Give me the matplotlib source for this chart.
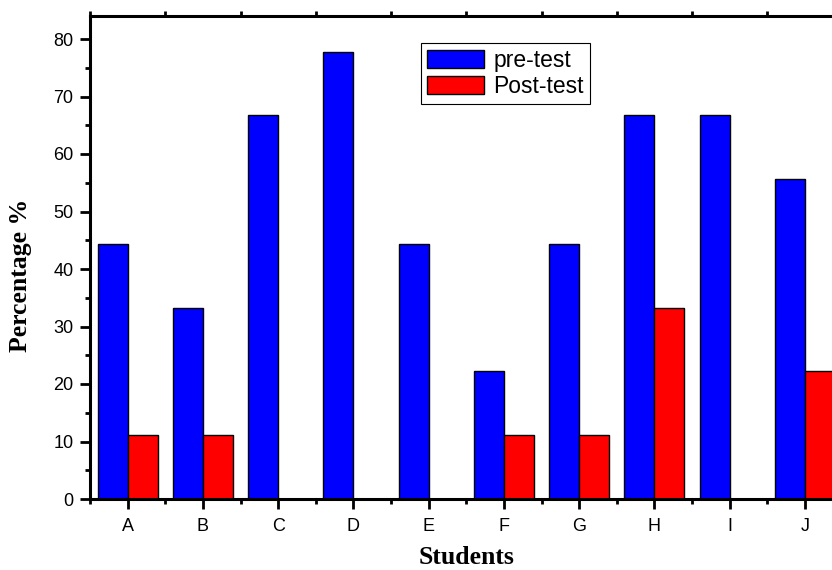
import numpy as np
import matplotlib
matplotlib.use('Agg')
from matplotlib import pyplot as plt
from matplotlib.ticker import MultipleLocator

# data
students = ['A', 'B', 'C', 'D', 'E', 'F', 'G', 'H', 'I', 'J']
pre_test = [44.4, 33.3, 66.7, 77.8, 44.4, 22.2, 44.4, 66.7, 66.7, 55.6]
post_test = [11.1, 11.1, 0, 0, 0, 11.1, 11.1, 33.3, 0, 22.2]

plt.rcParams['font.family'] = ['Liberation Sans', 'DejaVu Sans']

fig = plt.figure(figsize=(8.32, 5.70), dpi=100)
# axes run slightly past the right edge, as in the original
ax = fig.add_axes([90/832, 71/570, 752.5/832, 483/570])

x = np.arange(1, len(students) + 1)
w = 0.4
ax.bar(x - w/2, pre_test, w, color='#0000ff', edgecolor='black', linewidth=1, label='pre-test')
ax.bar(x + w/2, post_test, w, color='#ff0000', edgecolor='black', linewidth=1, label='Post-test')

ax.set_xlim(0.5, 10.5)
ax.set_ylim(0, 84)
ax.set_xticks(x)
ax.set_xticklabels(students)
ax.xaxis.set_minor_locator(MultipleLocator(1, offset=0.5))
ax.yaxis.set_major_locator(MultipleLocator(10))
ax.yaxis.set_minor_locator(MultipleLocator(5))

for s in ax.spines.values():
    s.set_linewidth(2.2)

ax.tick_params(axis='both', which='major', direction='out', length=7, width=2, labelsize=13, pad=5)
ax.tick_params(axis='both', which='minor', direction='out', length=3.5, width=2)
ax.tick_params(axis='x', which='major', pad=7)
ax.tick_params(axis='x', which='minor', top=True, bottom=True)

ax.set_xlabel('Students', family='Liberation Serif', fontweight='bold', fontsize=18.5)
ax.xaxis.set_label_coords(0.5, -0.097)
ax.set_ylabel('Percentage %', family='Liberation Serif', fontweight='bold', fontsize=18.5)
ax.yaxis.set_label_coords(-0.077, 0.464)

leg = ax.legend(loc='upper left', bbox_to_anchor=(0.44, 0.944), borderaxespad=0,
                fontsize=16.5, fancybox=False, edgecolor='black', framealpha=1,
                handlelength=2.5, handleheight=0.83, handletextpad=0.4,
                borderpad=0.25, labelspacing=0.15)
leg.get_frame().set_linewidth(0.8)

plt.savefig('out.png', dpi=100)
